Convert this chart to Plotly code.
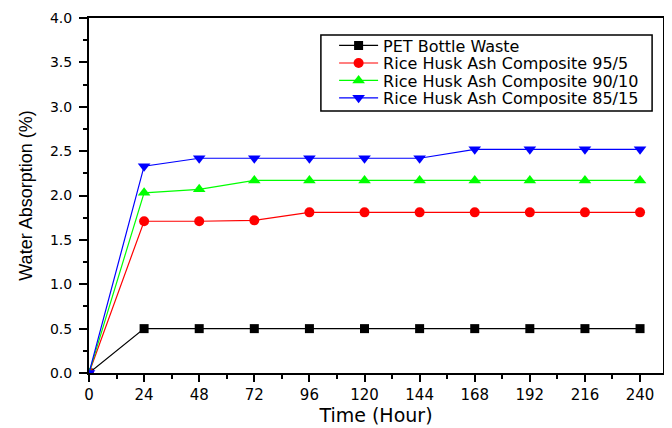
import plotly.graph_objects as go

hours = [0, 24, 48, 72, 96, 120, 144, 168, 192, 216, 240]
pet = [0, 0.5, 0.5, 0.5, 0.5, 0.5, 0.5, 0.5, 0.5, 0.5, 0.5]
rha_95_5 = [0, 1.71, 1.71, 1.72, 1.81, 1.81, 1.81, 1.81, 1.81, 1.81, 1.81]
rha_90_10 = [0, 2.03, 2.07, 2.17, 2.17, 2.17, 2.17, 2.17, 2.17, 2.17, 2.17]
rha_85_15 = [0, 2.33, 2.42, 2.42, 2.42, 2.42, 2.42, 2.52, 2.52, 2.52, 2.52]

series = [
    ("PET Bottle Waste", pet, "black", "square", 9),
    ("Rice Husk Ash Composite 95/5", rha_95_5, "red", "circle", 10),
    ("Rice Husk Ash Composite 90/10", rha_90_10, "#00ff00", "triangle-up", 11),
    ("Rice Husk Ash Composite 85/15", rha_85_15, "blue", "triangle-down", 11),
]

wide = "DejaVu Sans, sans-serif"
arial = "Liberation Sans, Arial, sans-serif"

legend_names = ["legend", "legend2", "legend3", "legend4"]
legend_rows_y = [0.9225, 0.873, 0.824, 0.775]

fig = go.Figure()
for (name, vals, color, sym, size), lg in zip(series, legend_names):
    fig.add_trace(go.Scatter(
        x=hours, y=vals, name=name, mode="lines+markers",
        line=dict(color=color, width=1.2),
        marker=dict(symbol=sym, size=size, color=color),
        legend=lg,
    ))

# legend frame
fig.add_shape(type="rect", xref="paper", yref="paper",
              x0=0.404, x1=0.981, y0=0.738, y1=0.952,
              line=dict(color="black", width=1.5), fillcolor="white", layer="below")

legend_common = dict(
    xanchor="left", yanchor="middle", bgcolor="rgba(0,0,0,0)", borderwidth=0,
    font=dict(family=wide, size=16, color="black"), itemwidth=39,
)
layout_legends = {}
for lg, yy in zip(legend_names, legend_rows_y):
    layout_legends[lg] = dict(x=0.427, y=yy, **legend_common)

fig.update_layout(
    width=672, height=428,
    margin=dict(l=81, r=17, t=10, b=63, autoexpand=False),
    plot_bgcolor="white", paper_bgcolor="white",
    font=dict(family=wide, size=15, color="black"),
    showlegend=True,
    xaxis=dict(
        range=[0, 250], tickmode="array", tickvals=hours,
        ticks="outside", ticklen=7, tickwidth=1.5, tickcolor="black",
        minor=dict(tickvals=[12 + 24 * i for i in range(10)], ticks="outside",
                   ticklen=4, tickwidth=1.5, tickcolor="black"),
        showline=True, linecolor="black", linewidth=2, mirror=True,
        showgrid=False, zeroline=False,
        title=dict(text="Time (Hour)", font=dict(family=wide, size=19), standoff=0),
        tickfont=dict(family=wide, size=15, color="black"),
        ticklabelstandoff=0,
    ),
    yaxis=dict(
        range=[0, 4], dtick=0.5, tickformat=".1f",
        ticks="outside", ticklen=8, tickwidth=1.5, tickcolor="black",
        minor=dict(dtick=0.25, ticks="outside", ticklen=4, tickwidth=1.5, tickcolor="black"),
        showline=True, linecolor="black", linewidth=2, mirror=True,
        showgrid=False, zeroline=False,
        title=dict(text="Water Absorption (%)", font=dict(family=arial, size=18), standoff=13),
        tickfont=dict(family=wide, size=14, color="black"),
        ticklabelstandoff=4,
    ),
    **layout_legends,
)

fig.write_html("out.html")
